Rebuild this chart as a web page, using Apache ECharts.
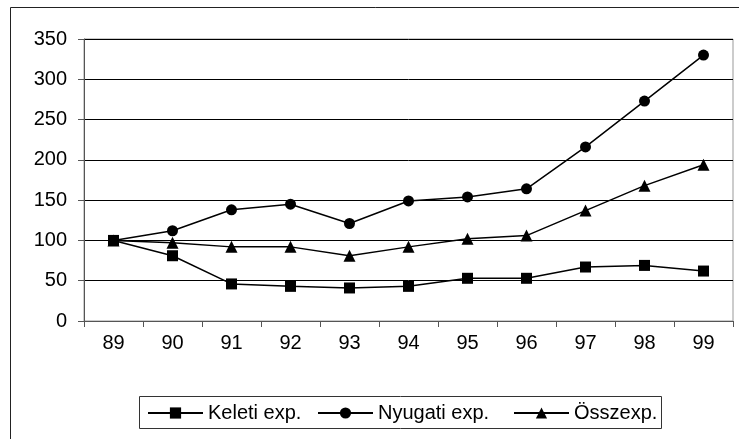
<!DOCTYPE html>
<html>
<head>
<meta charset="utf-8">
<script src="https://cdn.jsdelivr.net/npm/echarts@6/dist/echarts.min.js"></script>
<style>
  html, body { margin: 0; padding: 0; background: #fff; }
  #chart { width: 739px; height: 439px; }
</style>
</head>
<body>
<div id="chart"></div>
<script>
// Years (two-digit) on the category axis
const years = ['89', '90', '91', '92', '93', '94', '95', '96', '97', '98', '99'];

// Export indices, 1989 = 100
const keleti = [100, 81, 46, 43, 41, 43, 53, 53, 67, 69, 62];
const nyugati = [100, 112, 138, 145, 121, 149, 154, 164, 216, 273, 330];
const osszexp = [100, 97, 92, 92, 81, 92, 102, 106, 137, 168, 194];

const seriesNames = ['Keleti exp.', 'Nyugati exp.', 'Összexp.'];
const yTicks = { min: 0, max: 350, step: 50 };

const FONT = '"Liberation Sans", Arial, sans-serif';

const chart = echarts.init(document.getElementById('chart'), null, { renderer: 'canvas' });

function lineSeries(name, data, symbol, size) {
  return {
    name: name,
    type: 'line',
    data: data,
    symbol: symbol,
    symbolSize: size,
    lineStyle: { color: '#000', width: 1.5 },
    itemStyle: { color: '#000' },
    animation: false
  };
}

function legendAt(name, left) {
  return {
    data: [name],
    left: left,
    top: 403,
    padding: 0,
    itemWidth: 55,
    itemHeight: 14,
    itemGap: 0,
    textStyle: { fontFamily: FONT, fontSize: 20, color: '#000', lineHeight: 20 }
  };
}

chart.setOption({
  backgroundColor: '#fff',
  animation: false,
  grid: {
    left: 84, right: 6, top: 39, bottom: 118,
    show: true, borderColor: '#999', borderWidth: 1
  },
  xAxis: {
    type: 'category',
    data: years,
    boundaryGap: true,
    axisLine: { lineStyle: { color: '#555', width: 1 } },
    axisTick: { show: true, length: 6, lineStyle: { color: '#555' } },
    axisLabel: { fontFamily: FONT, fontSize: 20, color: '#000', margin: 12 },
    splitLine: { show: false }
  },
  yAxis: {
    type: 'value',
    min: yTicks.min, max: yTicks.max, interval: yTicks.step,
    axisLine: { show: true, lineStyle: { color: '#555', width: 1 } },
    axisTick: { show: true, length: 6, lineStyle: { color: '#555' } },
    axisLabel: { fontFamily: FONT, fontSize: 20, color: '#000', margin: 17 },
    splitLine: { show: true, lineStyle: { color: '#000', width: 1 } }
  },
  legend: [
    legendAt(seriesNames[0], 147),
    legendAt(seriesNames[1], 317),
    legendAt(seriesNames[2], 513)
  ],
  graphic: [
    {
      type: 'rect', z: -1, silent: true,
      shape: { x: 10.5, y: 7.5, width: 800, height: 500 },
      style: { fill: 'none', stroke: '#222', lineWidth: 1 }
    },
    {
      type: 'rect', silent: true,
      shape: { x: 139.5, y: 396.5, width: 522, height: 32 },
      style: { fill: 'none', stroke: '#333', lineWidth: 1 }
    }
  ],
  series: [
    lineSeries(seriesNames[0], keleti, 'rect', 11),
    lineSeries(seriesNames[1], nyugati, 'circle', 11),
    lineSeries(seriesNames[2], osszexp, 'triangle', 12)
  ]
});
</script>
</body>
</html>
